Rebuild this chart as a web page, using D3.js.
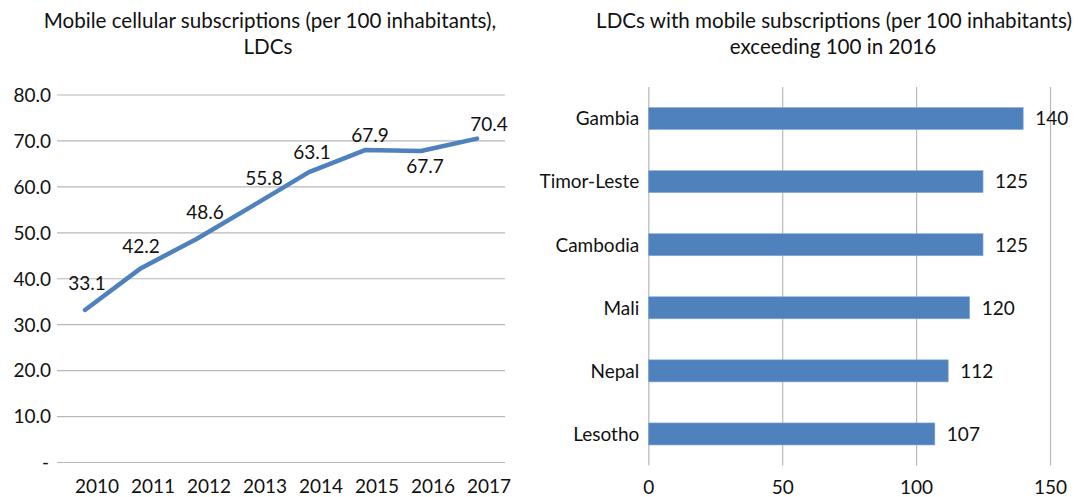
<!DOCTYPE html>
<html>
<head>
<meta charset="utf-8">
<script src="https://cdn.jsdelivr.net/npm/d3@7"></script>
<style>
  html, body { margin: 0; padding: 0; background: #fff; }
  svg { display: block; }
  text { font-family: Lato, "Open Sans", sans-serif; fill: #111; }
</style>
</head>
<body>
<svg id="chart" width="1078" height="497"></svg>
<script>
// Mobile cellular subscriptions per 100 inhabitants, LDC aggregate
const years = ["2010", "2011", "2012", "2013", "2014", "2015", "2016", "2017"];
const subscriptions = [33.1, 42.2, 48.6, 55.8, 63.1, 67.9, 67.7, 70.4];
const lineTicks = [0, 10, 20, 30, 40, 50, 60, 70, 80];

// LDCs above 100 subscriptions per 100 inhabitants in 2016
const countries = ["Gambia", "Timor-Leste", "Cambodia", "Mali", "Nepal", "Lesotho"];
const countryValues = [140, 125, 125, 120, 112, 107];
const barTicks = [0, 50, 100, 150];

const BLUE = "#4F81BD";
const GRID = "#b8b8b8";
const FONT = 19;
const TITLE_FONT = 20.6;

const svg = d3.select("#chart");

// ---------- Left panel: line chart ----------
const L = { left: 57, right: 505, top: 94.5, bottom: 462 };

const xBand = d3.scaleBand().domain(years).range([L.left, L.right]);
const xPt = d => xBand(d) + xBand.bandwidth() / 2;
const yLin = d3.scaleLinear().domain([0, 80]).range([L.bottom, L.top]);

const left = svg.append("g");

left.append("text")
  .attr("x", 270).attr("y", 28)
  .attr("text-anchor", "middle").attr("font-size", TITLE_FONT)
  .text("Mobile cellular subscriptions (per 100 inhabitants),");
left.append("text")
  .attr("x", 268).attr("y", 54)
  .attr("text-anchor", "middle").attr("font-size", TITLE_FONT)
  .text("LDCs");

// horizontal gridlines + value axis labels
const yAxis = d3.axisLeft(yLin)
  .tickValues(lineTicks)
  .tickSize(-(L.right - L.left))
  .tickPadding(6)
  .tickFormat(v => v === 0 ? "-" : d3.format(".1f")(v));

const yg = left.append("g")
  .attr("transform", `translate(${L.left},0)`)
  .call(yAxis);
yg.select(".domain").remove();
yg.selectAll(".tick line").attr("stroke", GRID).attr("stroke-width", 1.2);
yg.selectAll(".tick text")
  .attr("font-size", FONT)
  .attr("font-family", "Lato, 'Open Sans', sans-serif")
  .attr("fill", "#111")
  .attr("x", -6)
  .attr("dy", "0.36em");
yg.selectAll(".tick").filter(v => v === 0).select("text").attr("x", -8);

// category axis labels
const xAxis = d3.axisBottom(xBand).tickSize(0).tickPadding(0);
const xg = left.append("g")
  .attr("transform", `translate(12,${L.bottom})`)
  .call(xAxis);
xg.select(".domain").remove();
xg.selectAll(".tick text")
  .attr("font-size", FONT)
  .attr("font-family", "Lato, 'Open Sans', sans-serif")
  .attr("fill", "#111")
  .attr("dy", 0)
  .attr("y", 31);

// line
const lineData = years.map((y, i) => ({ year: y, value: subscriptions[i] }));
left.append("path")
  .datum(lineData)
  .attr("fill", "none")
  .attr("stroke", BLUE)
  .attr("stroke-width", 4.5)
  .attr("stroke-linejoin", "round")
  .attr("stroke-linecap", "round")
  .attr("d", d3.line().x(d => xPt(d.year)).y(d => yLin(d.value)));

// data label placement around each point (dx, dy of the label centre)
const labelNudge = [[2, -27], [0, -22], [8, -27], [11, -28], [3, -20], [5, -15], [4, 15], [12, -14]];
left.selectAll("text.val")
  .data(lineData)
  .join("text")
  .attr("class", "val")
  .attr("font-size", FONT)
  .attr("text-anchor", "middle")
  .attr("dy", "0.36em")
  .attr("x", (d, i) => xPt(d.year) + labelNudge[i][0])
  .attr("y", (d, i) => yLin(d.value) + labelNudge[i][1])
  .text(d => d3.format(".1f")(d.value));

// ---------- Right panel: horizontal bar chart ----------
const R = { left: 648.3, right: 1050, top: 87, bottom: 465.5 };

const xLin = d3.scaleLinear().domain([0, 150]).range([R.left, R.right]);
const yBand = d3.scaleBand().domain(countries).range([R.top, R.bottom]).paddingInner(0.65).paddingOuter(0.325);

const right = svg.append("g");

right.append("text")
  .attr("x", 834).attr("y", 28)
  .attr("text-anchor", "middle").attr("font-size", TITLE_FONT)
  .text("LDCs with mobile subscriptions (per 100 inhabitants)");
right.append("text")
  .attr("x", 833).attr("y", 54)
  .attr("text-anchor", "middle").attr("font-size", TITLE_FONT)
  .text("exceeding 100 in 2016");

// vertical gridlines + value axis
const xAxisR = d3.axisBottom(xLin)
  .tickValues(barTicks)
  .tickSize(-(R.bottom - R.top))
  .tickPadding(0)
  .tickFormat(d3.format("d"));
const xgR = right.append("g")
  .attr("transform", `translate(0,${R.bottom})`)
  .call(xAxisR);
xgR.select(".domain").remove();
xgR.selectAll(".tick line").attr("stroke", GRID).attr("stroke-width", 1.2);
xgR.selectAll(".tick text")
  .attr("font-size", FONT)
  .attr("font-family", "Lato, 'Open Sans', sans-serif")
  .attr("fill", "#111")
  .attr("dy", 0)
  .attr("y", 28);

const barData = countries.map((c, i) => ({ country: c, value: countryValues[i] }));

right.selectAll("rect.bar")
  .data(barData)
  .join("rect")
  .attr("class", "bar")
  .attr("x", xLin(0))
  .attr("y", d => yBand(d.country))
  .attr("width", d => xLin(d.value) - xLin(0))
  .attr("height", yBand.bandwidth())
  .attr("fill", BLUE)
  .attr("stroke", "#8eaedb")
  .attr("stroke-width", 0.6);

// category labels
right.selectAll("text.cat")
  .data(barData)
  .join("text")
  .attr("class", "cat")
  .attr("font-size", FONT)
  .attr("text-anchor", "end")
  .attr("dy", "0.36em")
  .attr("x", R.left - 9)
  .attr("y", d => yBand(d.country) + yBand.bandwidth() / 2)
  .text(d => d.country);

// value labels
right.selectAll("text.bval")
  .data(barData)
  .join("text")
  .attr("class", "bval")
  .attr("font-size", FONT)
  .attr("dy", "0.36em")
  .attr("x", d => xLin(d.value) + 12)
  .attr("y", d => yBand(d.country) + yBand.bandwidth() / 2)
  .text(d => d.value);
</script>
</body>
</html>
